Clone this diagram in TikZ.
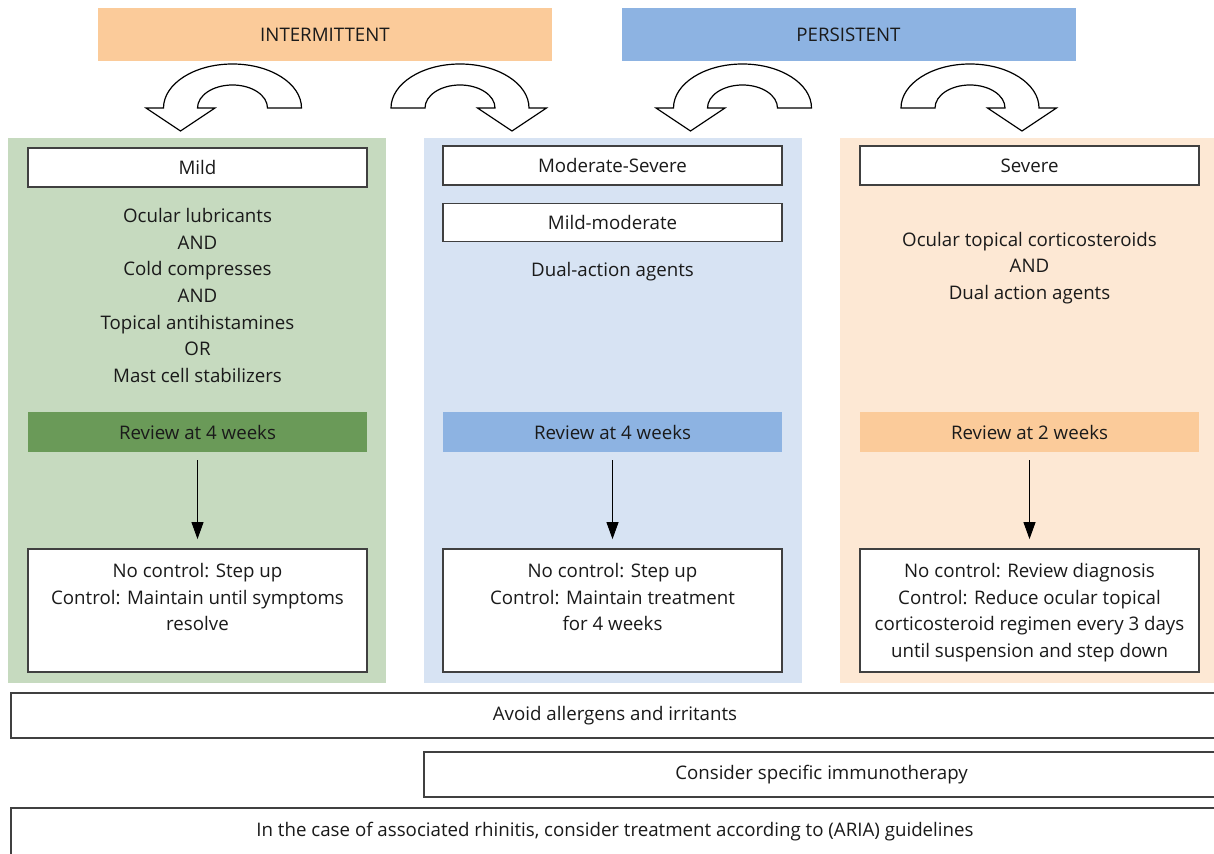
\documentclass[tikz,border=0pt]{standalone}
\usepackage{fontspec}
\setmainfont{Open Sans}
\usetikzlibrary{arrows.meta,positioning}
\definecolor{gpanel}{HTML}{C6DABF}
\definecolor{bpanel}{HTML}{D7E3F3}
\definecolor{opanel}{HTML}{FDE8D4}
\definecolor{greview}{HTML}{6A9A58}
\definecolor{bhead}{HTML}{8DB3E2}
\definecolor{ohead}{HTML}{FBCB9A}
\definecolor{txtc}{HTML}{1A1A1A}
\newcommand\uturnleft[1]{%
\draw[uturn] ({#1+69},108) arc[start angle=0,end angle=180,x radius=34.5pt,y radius=22pt]
  -- ({#1-86.5},108) -- ({#1-52},131) -- ({#1-17.5},108) -- ({#1-35},108)
  arc[start angle=180,end angle=0,x radius=17.5pt,y radius=11.5pt] -- cycle;}
\newcommand\uturnright[1]{%
\draw[uturn] ({#1-69},108) arc[start angle=180,end angle=0,x radius=34.5pt,y radius=22pt]
  -- ({#1+86.5},108) -- ({#1+52},131) -- ({#1+17.5},108) -- ({#1+35},108)
  arc[start angle=0,end angle=180,x radius=17.5pt,y radius=11.5pt] -- cycle;}
\begin{document}
\begin{tikzpicture}[x=0.5pt,y=-0.5pt,
  font=\fontsize{9.35}{13.3}\selectfont, text=txtc,
  uturn/.style={draw=black, fill=white, line width=0.6pt, line join=miter},
  head/.style={inner sep=0pt, minimum width=227pt, minimum height=26.5pt},
  box/.style={draw=black!75, line width=0.9pt, fill=white, inner sep=0pt, minimum width=169.5pt},
  rev/.style={inner sep=0pt, minimum width=169.5pt, minimum height=20pt},
  txt/.style={align=center, inner sep=0pt},
  wide/.style={draw=black!75, line width=0.9pt, fill=white, inner sep=0pt, minimum height=22.5pt},
  varr/.style={line width=0.5pt, -{Triangle[width=6pt,length=8.5pt]}, shorten <=4pt, shorten >=4.5pt}]
\useasboundingbox (0,0) rectangle (1214,854);
\clip (0,0) rectangle (1214,854);
\fill[white] (0,0) rectangle (1214,854);
% headers
\node[head, fill=ohead] (h1) at (325,34.5) {INTERMITTENT};
\node[head, fill=bhead] (h2) at (848.5,34.5) {PERSISTENT};
% u-turn arrows
\uturnleft{232.5}
\uturnright{460}
\uturnleft{742.5}
\uturnright{970}
% panels
\fill[gpanel] (8,138) rectangle (386,683);
\fill[bpanel] (424,138) rectangle (802,683);
\fill[opanel] (840,138) rectangle (1214,683);
% panel 1
\node[box, minimum height=19.5pt] (mild) at (197.5,167.5) {Mild};
\node[txt] (t1) at (197.5,295.5) {Ocular lubricants\\AND\\Cold compresses\\AND\\Topical antihistamines\\OR\\Mast cell stabilizers};
\node[rev, fill=greview] (r1) at (197.5,432) {Review at 4 weeks};
\node[box, minimum height=61.5pt] (b1) at (197.5,610.5) {};
\node[txt, below=7.5pt of b1.north] (bt1) {No control: Step up\\Control: Maintain until symptoms\\resolve};
% panel 2
\node[box, minimum height=19.5pt] (ms) at (612.5,165.5) {Moderate-Severe};
\node[box, minimum height=19pt] (mm) at (612.5,222.5) {Mild-moderate};
\node[txt] (t2) at (612.5,272) {Dual-action agents};
\node[rev, fill=bhead] (r2) at (612.5,432) {Review at 4 weeks};
\node[box, minimum height=61.5pt] (b2) at (612.5,610.5) {};
\node[txt, below=7.5pt of b2.north] (bt2) {No control: Step up\\Control: Maintain treatment\\for 4 weeks};
% panel 3
\node[box, minimum height=19.5pt] (sev) at (1029.5,165.5) {Severe};
\node[txt] (t3) at (1029.5,268) {Ocular topical corticosteroids\\AND\\Dual action agents};
\node[rev, fill=ohead] (r3) at (1029.5,432) {Review at 2 weeks};
\node[box, minimum height=61.5pt] (b3) at (1029.5,610.5) {};
\node[txt, below=7.5pt of b3.north] (bt3) {No control: Review diagnosis\\Control: Reduce ocular topical\\corticosteroid regimen every 3 days\\until suspension and step down};
% vertical arrows
\draw[varr] (r1.south) -- (b1.north);
\draw[varr] (r2.south) -- (b2.north);
\draw[varr] (r3.south) -- (b3.north);
% bottom bars
\node[wide, minimum width=604pt] (av) at (615,715.5) {Avoid allergens and irritants};
\node[wide, minimum width=397.5pt] (im) at (821.5,774.5) {Consider specific immunotherapy};
\node[wide, minimum width=604pt, minimum height=24pt] (ar) at (615,832) {In the case of associated rhinitis, consider treatment according to (ARIA) guidelines};
\end{tikzpicture}
\end{document}
